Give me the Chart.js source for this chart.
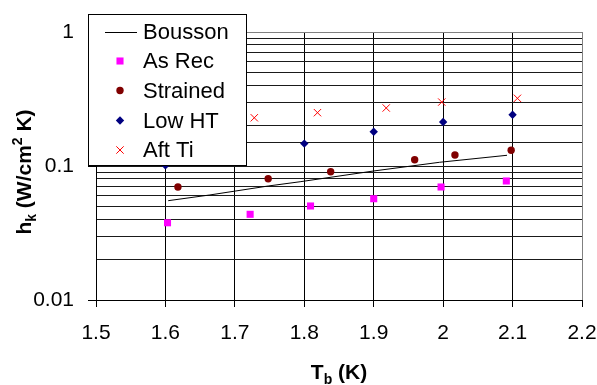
<!DOCTYPE html>
<html>
<head>
<meta charset="utf-8">
<script src="https://cdn.jsdelivr.net/npm/chart.js@4"></script>
<style>
  html, body { margin: 0; padding: 0; background: #fff; }
  #chart { display: block; }
</style>
</head>
<body>
<canvas id="chart" width="597" height="385"></canvas>
<script>
// === DADOS ===
const xTicks = [1.5, 1.6, 1.7, 1.8, 1.9, 2.0, 2.1, 2.2];
const yLabels = [0.01, 0.1, 1];

const bousT = [1.604, 1.664, 1.748, 1.794, 1.900, 1.995, 2.092];
const bousH = [0.0551, 0.0608, 0.0709, 0.0763, 0.0918, 0.1066, 0.1202];

const asRecT = [1.603, 1.722, 1.809, 1.900, 1.997, 2.091];
const asRecH = [0.0377, 0.0436, 0.0503, 0.0570, 0.0697, 0.0773];

const strainedT = [1.618, 1.748, 1.838, 1.959, 2.017, 2.098];
const strainedH = [0.0697, 0.0804, 0.0907, 0.1114, 0.1208, 0.1310];

const lowHtT = [1.600, 1.800, 1.900, 2.000, 2.100];
const lowHtH = [0.101, 0.147, 0.180, 0.213, 0.241];

const aftTiT = [1.728, 1.819, 1.918, 1.998, 2.107];
const aftTiH = [0.229, 0.250, 0.271, 0.300, 0.320];

const FONT = "'Liberation Sans', Arial, sans-serif";
const pts = (xs, ys) => xs.map((x, i) => ({ x, y: ys[i] }));
const isPow10 = v => Math.abs(Math.log10(v) - Math.round(Math.log10(v))) < 1e-6;

const series = [
  { label: 'Bousson', data: pts(bousT, bousH), showLine: true, borderColor: '#000', borderWidth: 1, pointRadius: 0, pointStyle: false },
  { label: 'As Rec', data: pts(asRecT, asRecH), pointStyle: 'rect', pointRadius: 5, backgroundColor: '#ff00ff', borderColor: '#ff00ff', borderWidth: 0 },
  { label: 'Strained', data: pts(strainedT, strainedH), pointStyle: 'circle', pointRadius: 3.7, backgroundColor: '#800000', borderColor: '#800000', borderWidth: 0 },
  { label: 'Low HT', data: pts(lowHtT, lowHtH), pointStyle: 'rectRot', pointRadius: 4.2, backgroundColor: '#000080', borderColor: '#000080', borderWidth: 0 },
  { label: 'Aft Ti', data: pts(aftTiT, aftTiH), pointStyle: 'crossRot', pointRadius: 5.2, backgroundColor: '#ff0000', borderColor: '#ff0000', borderWidth: 1 }
];

// === LEGENDA E TÍTULOS (desenhados à mão) ===
const legendaPlugin = {
  id: 'legenda',
  afterDatasetsDraw(chart) {
    const ctx = chart.ctx;
    ctx.save();
    ctx.fillStyle = '#fff';
    ctx.fillRect(88, 14, 158, 151);
    ctx.strokeStyle = '#000';
    ctx.lineWidth = 1;
    ctx.strokeRect(88.5, 14.5, 158, 151);
    const linhas = [31.5, 61, 90.5, 120.5, 150];
    series.forEach((s, i) => {
      const y = linhas[i];
      if (i === 0) {
        ctx.beginPath();
        ctx.moveTo(105, Math.round(y) + 0.5);
        ctx.lineTo(137, Math.round(y) + 0.5);
        ctx.strokeStyle = '#000';
        ctx.lineWidth = 1;
        ctx.stroke();
      } else {
        ctx.fillStyle = s.backgroundColor;
        ctx.strokeStyle = s.borderColor;
        ctx.lineWidth = s.borderWidth || 1;
        Chart.helpers.drawPoint(ctx, { pointStyle: s.pointStyle, radius: s.pointRadius, borderWidth: s.borderWidth, rotation: 0 }, 120, y);
      }
      ctx.fillStyle = '#000';
      ctx.font = '22px ' + FONT;
      ctx.textBaseline = 'middle';
      ctx.textAlign = 'left';
      ctx.fillText(s.label, 143, y + 1);
    });
    ctx.restore();
  },
  afterDraw(chart) {
    const ctx = chart.ctx;
    ctx.save();
    ctx.fillStyle = '#000';
    ctx.textBaseline = 'alphabetic';
    // titulo eixo x: T_b (K)
    const partesX = [['T', 21, 0], ['b', 14, 5], [' (K)', 21, 0]];
    desenharPartes(ctx, partesX, 339, 379);
    // titulo eixo y: h_k (W/cm^2 K)
    ctx.translate(31, 172);
    ctx.rotate(-Math.PI / 2);
    const partesY = [['h', 21, 0], ['k', 14, 5], [' (W/cm', 21, 0], ['2', 14, -9], [' K)', 21, 0]];
    desenharPartes(ctx, partesY, 0, 0);
    ctx.restore();
  }
};

function desenharPartes(ctx, partes, cx, baseY) {
  let total = 0;
  partes.forEach(([t, sz]) => { ctx.font = 'bold ' + sz + 'px ' + FONT; total += ctx.measureText(t).width; });
  let x = cx - total / 2;
  partes.forEach(([t, sz, dy]) => {
    ctx.font = 'bold ' + sz + 'px ' + FONT;
    ctx.fillText(t, x, baseY + dy);
    x += ctx.measureText(t).width;
  });
}

// === GRÁFICO ===
new Chart(document.getElementById('chart'), {
  type: 'scatter',
  data: { datasets: series },
  options: {
    responsive: false,
    animation: false,
    layout: { padding: { top: 32, right: 15, left: 0, bottom: 0 } },
    plugins: { legend: { display: false }, tooltip: { enabled: false } },
    scales: {
      x: {
        type: 'linear',
        min: xTicks[0],
        max: xTicks[xTicks.length - 1],
        afterFit: s => { s.height = 85; s.paddingLeft = 0; s.paddingRight = 0; },
        afterBuildTicks: s => { s.ticks = xTicks.map(v => ({ value: v })); },
        ticks: {
          font: { size: 21, family: FONT },
          color: '#000',
          padding: 14,
          maxRotation: 0,
          autoSkip: false,
          callback: v => String(Math.round(v * 10) / 10)
        },
        grid: {
          color: c => (c.tick && Math.abs(c.tick.value - 2.2) < 1e-6) ? '#808080' : '#000',
          tickColor: '#000',
          tickLength: 7,
          lineWidth: 1
        },
        border: { color: '#000', width: 1 }
      },
      y: {
        type: 'logarithmic',
        min: 0.01,
        max: 1,
        afterFit: s => { s.width = 96; s.paddingTop = 0; s.paddingBottom = 0; },
        ticks: {
          font: { size: 21, family: FONT },
          color: '#000',
          padding: 14,
          autoSkip: false,
          callback: v => yLabels.some(l => Math.abs(l - v) < 1e-9) ? String(v) : ''
        },
        grid: {
          color: c => (c.tick && Math.abs(c.tick.value - 1) < 1e-9) ? '#808080' : '#1a1a1a',
          tickColor: c => (c.tick && isPow10(c.tick.value)) ? '#000' : 'rgba(0,0,0,0)',
          tickLength: 8,
          lineWidth: 1
        },
        border: { color: '#000', width: 1 }
      }
    }
  },
  plugins: [legendaPlugin]
});
</script>
</body>
</html>
